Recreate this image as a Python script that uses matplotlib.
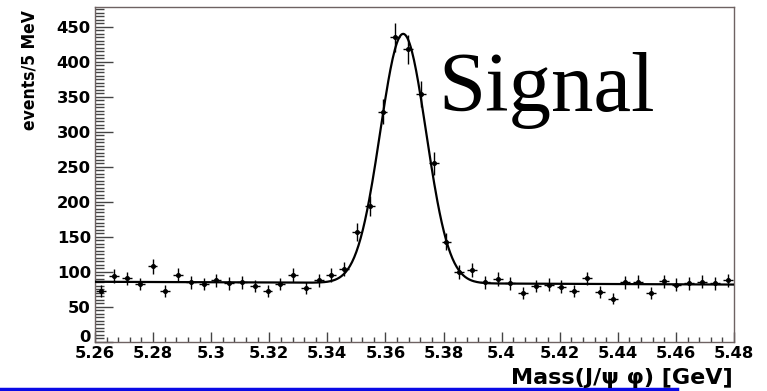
import numpy as np
import matplotlib
matplotlib.use('Agg')
import matplotlib.pyplot as plt
from matplotlib.lines import Line2D

# histogram: 50 bins from 5.26 to 5.48 GeV
bin_lo = 5.26
bin_hi = 5.48
n_bins = 50
counts = [73, 94, 91, 83, 108, 73, 96, 85, 83, 88,
          84, 85, 80, 73, 83, 96, 77, 88, 96, 104,
          157, 194, 329, 435, 418, 354, 255, 143, 100, 103,
          85, 90, 84, 70, 80, 82, 79, 73, 91, 72,
          62, 85, 86, 70, 87, 82, 84, 86, 84, 88]

# fit parameters (gaussian + linear background)
fit_mean = 5.3661
fit_sigma = 0.0079
fit_amp = 356
bkg_0 = 86
bkg_slope = -18

xticks = [5.26, 5.28, 5.3, 5.32, 5.34, 5.36, 5.38, 5.4, 5.42, 5.44, 5.46, 5.48]
xticklabels = ['5.26', '5.28', '5.3', '5.32', '5.34', '5.36', '5.38', '5.4', '5.42', '5.44', '5.46', '5.48']
yticks = [0, 50, 100, 150, 200, 250, 300, 350, 400, 450]

edges = np.linspace(bin_lo, bin_hi, n_bins + 1)
centers = (edges[:-1] + edges[1:]) / 2
counts = np.array(counts)
errs = np.sqrt(counts)

fig = plt.figure(figsize=(7.67, 3.91), dpi=100)
ax = fig.add_axes([95/767, 1-342/391, (734-95)/767, (342-7.3)/391])

ax.errorbar(centers, counts, yerr=errs, xerr=0.0017, fmt='o', color='k',
            ms=2.6, elinewidth=1.0, capsize=0, zorder=3)

m = np.linspace(bin_lo, bin_hi, 600)
fit = fit_amp*np.exp(-(m-fit_mean)**2/(2*fit_sigma**2)) + bkg_0 + bkg_slope*(m-bin_lo)
ax.plot(m, fit, color='k', lw=1.6, zorder=4)

ax.set_xlim(bin_lo, bin_hi)
ax.set_ylim(0, 478)
ax.set_xticks(xticks)
ax.set_xticklabels(xticklabels)
ax.set_xticks(np.arange(bin_lo, bin_hi+1e-9, 0.004), minor=True)
ax.set_yticks(yticks)
ax.set_yticks(np.arange(0, 476, 5), minor=True)

for sp in ax.spines.values():
    sp.set_color('#6e6262')
    sp.set_linewidth(1.0)

ax.tick_params(axis='y', which='major', direction='in', length=13, width=1, color='#444', pad=3)
ax.tick_params(axis='y', which='minor', direction='in', length=6.5, width=1, color='#444')
ax.tick_params(axis='x', which='major', direction='in', length=7, width=1, color='#444', pad=3)
ax.tick_params(axis='x', which='minor', direction='in', length=3.6, width=1, color='#444')
for lab in ax.get_xticklabels() + ax.get_yticklabels():
    lab.set_fontfamily('DejaVu Sans')
    lab.set_fontweight('bold')
    lab.set_fontsize(11.8)
ax.get_yticklabels()[0].set_va('baseline')  # ROOT puts the "0" a bit higher

fig.text(30/767, 1-70/391, 'events/5 MeV', rotation=90, ha='center', va='center',
         fontfamily='DejaVu Sans', fontstretch='condensed', fontweight='bold', fontsize=12.5)
fig.text(733/767, 1-384/391, 'Mass(J/\u03c8 \u03c6) [GeV]', ha='right', va='baseline',
         fontfamily='DejaVu Sans', fontweight='bold', fontsize=16)

fig.text(438/767, 1-111/391, 'Signal', ha='left', va='baseline',
         fontfamily='Liberation Serif', fontsize=61)

fig.add_artist(Line2D([0, 677/767], [1-388.5/391, 1-388.5/391], color='#0a0ae6', lw=2.5))

fig.savefig('out.png', dpi=100)
